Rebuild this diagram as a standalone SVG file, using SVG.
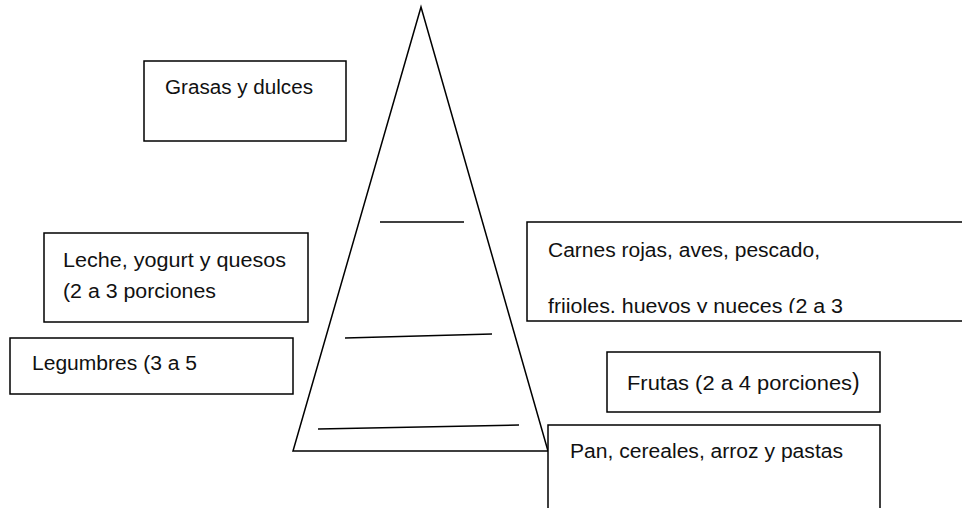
<svg xmlns="http://www.w3.org/2000/svg" width="962" height="508" viewBox="0 0 962 508">
<style>
.box{fill:#fff;stroke:#000;stroke-width:1.5}
.ln{fill:none;stroke:#000;stroke-width:1.5}
text{font-family:"Liberation Sans",Arial,sans-serif;font-size:20px;fill:#111}
</style>
<defs>
<clipPath id="cc"><rect x="526" y="222" width="440" height="91"/></clipPath>
</defs>
<rect width="962" height="508" fill="#fff"/>
<g id="pyramid">
<polygon class="ln" points="421,7 293,451 548,451"/>
<line class="ln" x1="380" y1="222" x2="464" y2="222"/>
<line class="ln" x1="345" y1="338" x2="492" y2="334"/>
<line class="ln" x1="318" y1="429" x2="519" y2="425"/>
</g>
<g id="grasas">
<rect class="box" x="144" y="61" width="202" height="80"/>
<text x="165" y="94" textLength="148" lengthAdjust="spacingAndGlyphs">Grasas y dulces</text>
</g>
<g id="leche">
<rect class="box" x="44" y="233" width="264" height="89"/>
<text x="63" y="267" textLength="223" lengthAdjust="spacingAndGlyphs">Leche, yogurt y quesos</text>
<text x="63" y="298" textLength="153" lengthAdjust="spacingAndGlyphs">(2 a 3 porciones</text>
</g>
<g id="legumbres">
<rect class="box" x="10" y="338" width="283" height="56"/>
<text x="32" y="370" textLength="165" lengthAdjust="spacingAndGlyphs">Legumbres (3 a 5</text>
</g>
<g id="carnes">
<rect class="box" x="527" y="222" width="450" height="99"/>
<g clip-path="url(#cc)">
<text x="548" y="257" textLength="272" lengthAdjust="spacingAndGlyphs">Carnes rojas, aves, pescado,</text>
<text x="548" y="313" textLength="295" lengthAdjust="spacingAndGlyphs">frijoles, huevos y nueces (2 a 3</text>
</g>
</g>
<g id="frutas">
<rect class="box" x="607" y="352" width="273" height="60"/>
<text x="627" y="390"><tspan textLength="225" lengthAdjust="spacingAndGlyphs">Frutas (2 a 4 porciones</tspan><tspan font-size="23">)</tspan></text>
</g>
<g id="pan">
<rect class="box" x="548" y="425" width="332" height="100"/>
<text x="570" y="458" textLength="273" lengthAdjust="spacingAndGlyphs">Pan, cereales, arroz y pastas</text>
</g>
</svg>
